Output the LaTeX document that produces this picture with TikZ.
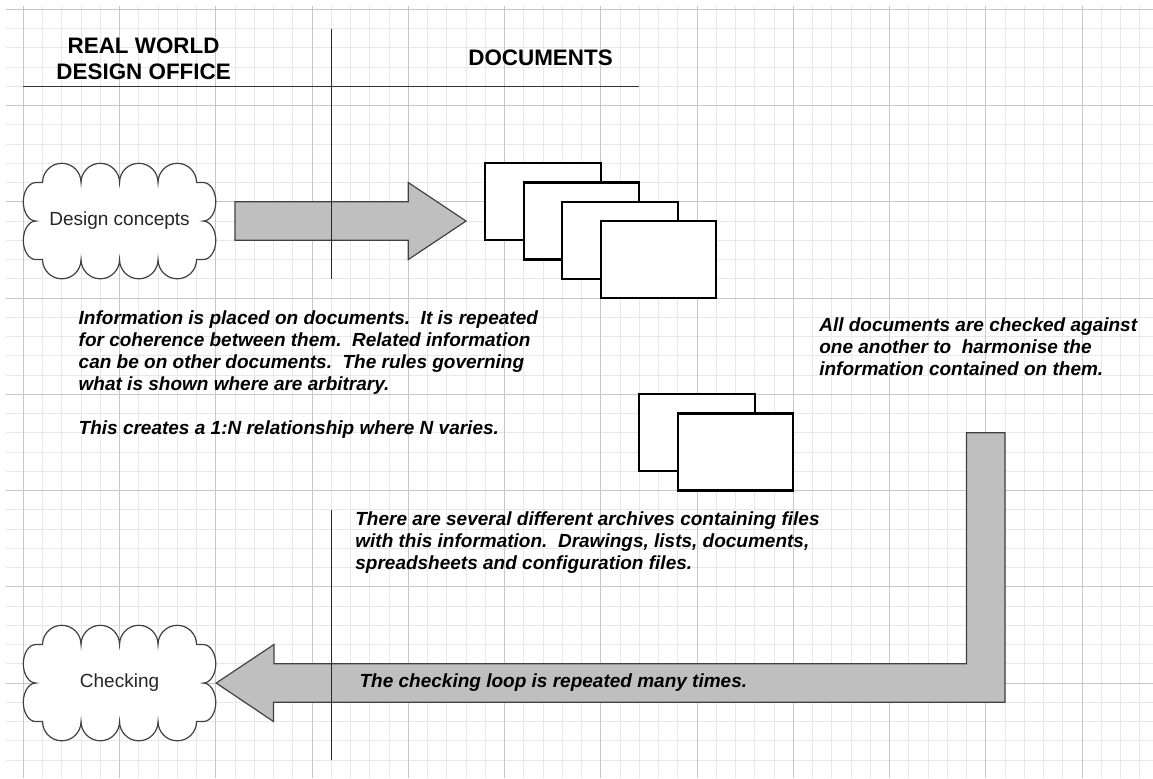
\documentclass[tikz,border=0pt]{standalone}
\usepackage{fontspec}
\setmainfont{Liberation Sans}
\begin{document}
\begin{tikzpicture}[x=9.625pt,y=-9.625pt]
\tikzstyle{every node}+=[inner sep=0pt]
\tikzstyle{cloudline}=[draw=black!75, fill=white, line width=0.6pt]
\tikzstyle{docbox}=[draw=black, fill=white, line width=1.1pt]
\tikzstyle{blockarrow}=[draw=black!75, fill=black!25, line width=0.6pt]
\tikzstyle{remark}=[align=left, font=\fontsize{9.5}{11}\selectfont\bfseries\itshape]
\tikzstyle{head}=[align=center, font=\fontsize{11.2}{13}\selectfont\bfseries]
\useasboundingbox (-1.2104,-0.4831) rectangle (58.6857,39.9325);
% grid paper
\foreach \i in {0,...,39} \draw [black!9, line width=0.5pt] (-0.9,\i) -- (58.6857,\i);
\foreach \i in {0,...,58} \draw [black!9, line width=0.5pt] (\i,-0.17) -- (\i,39.9325);
\foreach \i in {0,5,...,35} \draw [black!22, line width=0.5pt] (-0.9,\i) -- (58.6857,\i);
\foreach \i in {0,5,...,55} \draw [black!22, line width=0.5pt] (\i,-0.17) -- (\i,39.9325);
% clouds
\foreach \y/\nm/\txt in {11/dc/Design concepts,35/chk/Checking} {
  \draw [cloudline] (1,\y-2) \foreach \k in {1,...,4} {arc [start angle=180, end angle=360, radius=1]}
    -- (9.35,\y-2) arc [start angle=270, end angle=450, x radius=0.65, y radius=1]
    arc [start angle=270, end angle=450, x radius=0.65, y radius=1] -- (9,\y+2)
    \foreach \k in {1,...,4} {arc [start angle=0, end angle=180, radius=1]}
    -- (0.65,\y+2) arc [start angle=90, end angle=270, x radius=0.65, y radius=1]
    arc [start angle=90, end angle=270, x radius=0.65, y radius=1] -- cycle;
  \node [minimum width=96.25pt, minimum height=57.75pt, font=\fontsize{9.5}{11}\selectfont, text=black!85] (\nm) at (5,\y) {\txt};
}
% block arrows
\draw [blockarrow] (11,10) -- (20,10) -- (20,9) -- (23,11) -- (20,13) -- (20,12) -- (11,12) -- cycle;
\draw [blockarrow] (chk.east) -- ++(3,-2) -- ++(0,1) -- (49,34) -- (49,22) -- (51,22)
  -- (51,36) -- (13,36) -- (13,37) -- cycle;
% column lines
\draw [black!80, line width=0.6pt] (0,4) -- (32,4);
\draw [black!85, line width=0.6pt] (16,1) -- (16,14);
\draw [black!85, line width=0.6pt] (16,26) -- (16,39);
% documents
\foreach \i in {0,...,3} \draw [docbox] (24+2*\i,8+\i) rectangle ++(6,4);
\foreach \i in {0,1} \draw [docbox] (32+2*\i,20+\i) rectangle ++(6,4);
% texts
\node [head, anchor=north] (office) at (6.25,1.455) {REAL WORLD\\DESIGN OFFICE};
\node [head, anchor=north] (docs) at (26.87,2.078) {DOCUMENTS};
\node [remark, anchor=north west] (info) at (2.857,15.62) {Information is placed on documents.\ \ It is repeated\\
  for coherence between them.\ \ Related information\\
  can be on other documents.\ \ The rules governing\\
  what is shown where are arbitrary.\\[11pt]
  This creates a 1:N relationship where N varies.};
\node [remark, anchor=north west] (check) at (41.33,16.0) {All documents are checked against\\
  one another to\ \ harmonise the\\
  information contained on them.};
\node [remark, anchor=north west] (archive) at (17.23,26.1) {There are several different archives containing files\\
  with this information.\ \ Drawings, lists, documents,\\
  spreadsheets and configuration files.};
\node [remark, anchor=north west] (loop) at (17.45,34.49) {The checking loop is repeated many times.};
\end{tikzpicture}
\end{document}
